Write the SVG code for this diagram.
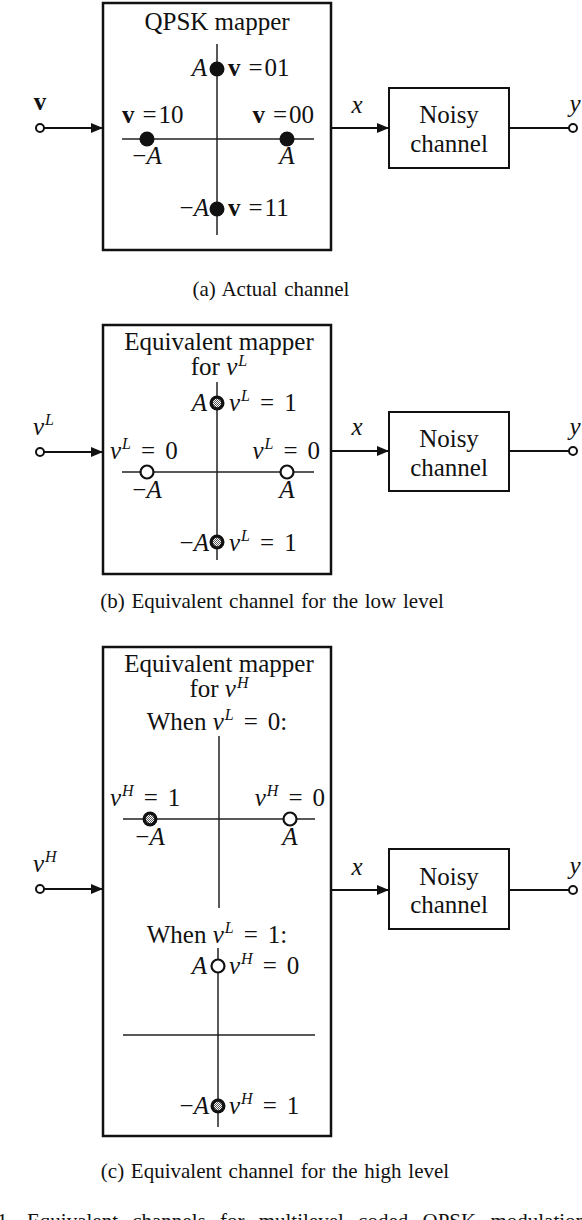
<svg xmlns="http://www.w3.org/2000/svg" width="582" height="1220" viewBox="0 0 582 1220">
<style>
text{font-family:"Liberation Serif","Times New Roman",serif;fill:#111;}
.t{font-size:25px;}
.cap{font-size:21px;word-spacing:1.5px;}
.m{font-size:25px;}
.i{font-style:italic;}
.b{font-weight:bold;}
.s{font-size:16px;font-style:italic;}
.box{fill:none;stroke:#111;stroke-width:2.5;}
.cbox{fill:none;stroke:#111;stroke-width:2;}
.axis{stroke:#222;stroke-width:1.5;fill:none;}
.wire{stroke:#111;stroke-width:2;fill:none;}
.term{fill:#fff;stroke:#111;stroke-width:2;}
.open{fill:#fff;stroke:#111;stroke-width:2.2;}
.dot{fill:#111;}
</style>
<defs>
<marker id="arr" markerWidth="12" markerHeight="10" refX="12" refY="5" orient="auto" markerUnits="userSpaceOnUse">
<path d="M0,0 L12,5 L0,10 Z" fill="#111"/>
</marker>
<pattern id="chk" width="2" height="2" patternUnits="userSpaceOnUse">
<rect width="2" height="2" fill="#555"/>
<rect width="1" height="1" fill="#fff"/>
<rect x="1" y="1" width="1" height="1" fill="#fff"/>
</pattern>
<g id="dp"><circle r="7.5" fill="#111"/><circle r="4.2" fill="url(#chk)"/></g>
</defs>

<!-- ===== (a) ===== -->
<g id="mapperA">
<rect class="box" x="103" y="3" width="228" height="247"/>
<text class="t" x="217" y="30" text-anchor="middle">QPSK mapper</text>
<line class="axis" x1="217" y1="44" x2="217" y2="235"/>
<line class="axis" x1="122" y1="139" x2="314" y2="139"/>
<circle class="dot" cx="147" cy="139" r="7.5"/>
<circle class="dot" cx="287" cy="139" r="7.5"/>
<circle class="dot" cx="217" cy="69" r="7.5"/>
<circle class="dot" cx="217" cy="209" r="7.5"/>
<text class="m i" x="207" y="76" text-anchor="end">A</text>
<text class="m" x="228" y="76"><tspan class="b">v</tspan><tspan dx="8">=</tspan><tspan dx="2">01</tspan></text>
<text class="m" x="122" y="123"><tspan class="b">v</tspan><tspan dx="8">=</tspan><tspan dx="2">10</tspan></text>
<text class="m" x="314" y="123" text-anchor="end"><tspan class="b">v</tspan><tspan dx="8">=</tspan><tspan dx="2">00</tspan></text>
<text class="m" x="147" y="164" text-anchor="middle">−<tspan class="i">A</tspan></text>
<text class="m i" x="287" y="164" text-anchor="middle">A</text>
<text class="m" x="209" y="216" text-anchor="end">−<tspan class="i">A</tspan></text>
<text class="m" x="228" y="216"><tspan class="b">v</tspan><tspan dx="8">=</tspan><tspan dx="2">11</tspan></text>
</g>
<g id="inA">
<circle class="term" cx="40" cy="128" r="4"/>
<text class="m b" x="40" y="110" text-anchor="middle">v</text>
</g>
<g id="chanA">
<rect class="cbox" x="389" y="88" width="120" height="80"/>
<text class="t" x="449" y="123" text-anchor="middle">Noisy</text>
<text class="t" x="449" y="152" text-anchor="middle">channel</text>
</g>
<g id="outA">
<circle class="term" cx="573" cy="128" r="4"/>
<text class="m i" x="575" y="112" text-anchor="middle">y</text>
</g>
<text class="m i" x="357" y="113" text-anchor="middle">x</text>
<text class="cap" x="271" y="296" text-anchor="middle">(a) Actual channel</text>

<!-- ===== (b) ===== -->
<g id="mapperB">
<rect class="box" x="103" y="325" width="228" height="249"/>
<text class="t" x="219" y="350" text-anchor="middle">Equivalent mapper</text>
<text class="t" x="219" y="375" text-anchor="middle">for <tspan class="i">v</tspan><tspan class="s" dx="1" dy="-9">L</tspan></text>
<line class="axis" x1="217" y1="382" x2="217" y2="560"/>
<line class="axis" x1="122" y1="472" x2="314" y2="472"/>
<use href="#dp" x="217" y="403"/>
<use href="#dp" x="217" y="542"/>
<circle class="open" cx="147" cy="472" r="6.5"/>
<circle class="open" cx="287" cy="472" r="6.5"/>
<text class="m i" x="207" y="411" text-anchor="end">A</text>
<text class="m" x="229" y="411"><tspan class="i">v</tspan><tspan class="s" dx="1" dy="-10">L</tspan><tspan dx="10" dy="10">=</tspan><tspan dx="10">1</tspan></text>
<text class="m" x="110" y="459"><tspan class="i">v</tspan><tspan class="s" dx="1" dy="-10">L</tspan><tspan dx="10" dy="10">=</tspan><tspan dx="10">0</tspan></text>
<text class="m" x="320" y="459" text-anchor="end"><tspan class="i">v</tspan><tspan class="s" dx="1" dy="-10">L</tspan><tspan dx="10" dy="10">=</tspan><tspan dx="10">0</tspan></text>
<text class="m" x="147" y="498" text-anchor="middle">−<tspan class="i">A</tspan></text>
<text class="m i" x="287" y="498" text-anchor="middle">A</text>
<text class="m" x="209" y="551" text-anchor="end">−<tspan class="i">A</tspan></text>
<text class="m" x="229" y="551"><tspan class="i">v</tspan><tspan class="s" dx="1" dy="-10">L</tspan><tspan dx="10" dy="10">=</tspan><tspan dx="10">1</tspan></text>
</g>
<g id="inB">
<circle class="term" cx="40" cy="452" r="4"/>
<text class="m" x="33" y="435"><tspan class="i">v</tspan><tspan class="s" dx="1" dy="-10">L</tspan></text>
</g>
<g id="chanB">
<rect class="cbox" x="389" y="412" width="120" height="79"/>
<text class="t" x="449" y="447" text-anchor="middle">Noisy</text>
<text class="t" x="449" y="476" text-anchor="middle">channel</text>
</g>
<g id="outB">
<circle class="term" cx="573" cy="451" r="4"/>
<text class="m i" x="575" y="435" text-anchor="middle">y</text>
</g>
<text class="m i" x="357" y="435" text-anchor="middle">x</text>
<text class="cap" x="272" y="608" text-anchor="middle">(b) Equivalent channel for the low level</text>

<!-- ===== (c) ===== -->
<g id="mapperC">
<rect class="box" x="103" y="647" width="228" height="489"/>
<text class="t" x="219" y="672" text-anchor="middle">Equivalent mapper</text>
<text class="t" x="219" y="697" text-anchor="middle">for <tspan class="i">v</tspan><tspan class="s" dx="1" dy="-9">H</tspan></text>
<text class="t" x="217" y="730" text-anchor="middle">When <tspan class="i">v</tspan><tspan class="s" dx="1" dy="-10">L</tspan><tspan dx="10" dy="10">=</tspan><tspan dx="10">0:</tspan></text>
<line class="axis" x1="219" y1="736" x2="219" y2="908"/>
<line class="axis" x1="123" y1="819" x2="315" y2="819"/>
<use href="#dp" x="150" y="819"/>
<circle class="open" cx="290" cy="819" r="6.5"/>
<text class="m" x="110" y="806"><tspan class="i">v</tspan><tspan class="s" dx="1" dy="-10">H</tspan><tspan dx="10" dy="10">=</tspan><tspan dx="10">1</tspan></text>
<text class="m" x="325" y="806" text-anchor="end"><tspan class="i">v</tspan><tspan class="s" dx="1" dy="-10">H</tspan><tspan dx="10" dy="10">=</tspan><tspan dx="10">0</tspan></text>
<text class="m" x="150" y="845" text-anchor="middle">−<tspan class="i">A</tspan></text>
<text class="m i" x="290" y="845" text-anchor="middle">A</text>
<text class="t" x="217" y="943" text-anchor="middle">When <tspan class="i">v</tspan><tspan class="s" dx="1" dy="-10">L</tspan><tspan dx="10" dy="10">=</tspan><tspan dx="10">1:</tspan></text>
<line class="axis" x1="218" y1="948" x2="218" y2="1127"/>
<line class="axis" x1="123" y1="1035" x2="315" y2="1035"/>
<circle class="open" cx="218" cy="966" r="6.5"/>
<use href="#dp" x="218" y="1106"/>
<text class="m i" x="207" y="974" text-anchor="end">A</text>
<text class="m" x="229" y="974"><tspan class="i">v</tspan><tspan class="s" dx="1" dy="-10">H</tspan><tspan dx="10" dy="10">=</tspan><tspan dx="10">0</tspan></text>
<text class="m" x="209" y="1114" text-anchor="end">−<tspan class="i">A</tspan></text>
<text class="m" x="229" y="1114"><tspan class="i">v</tspan><tspan class="s" dx="1" dy="-10">H</tspan><tspan dx="10" dy="10">=</tspan><tspan dx="10">1</tspan></text>
</g>
<g id="inC">
<circle class="term" cx="40" cy="889" r="4"/>
<text class="m" x="33" y="872"><tspan class="i">v</tspan><tspan class="s" dx="1" dy="-10">H</tspan></text>
</g>
<g id="chanC">
<rect class="cbox" x="389" y="849" width="120" height="80"/>
<text class="t" x="449" y="885" text-anchor="middle">Noisy</text>
<text class="t" x="449" y="913" text-anchor="middle">channel</text>
</g>
<g id="outC">
<circle class="term" cx="573" cy="890" r="4"/>
<text class="m i" x="575" y="874" text-anchor="middle">y</text>
</g>
<text class="m i" x="357" y="875" text-anchor="middle">x</text>
<text class="cap" x="275" y="1178" text-anchor="middle">(c) Equivalent channel for the high level</text>
<text class="cap" x="-3" y="1228" style="word-spacing:9px">1.  Equivalent channels for multilevel coded QPSK modulation</text>

<g id="connectors">
<line class="wire" x1="44" y1="128" x2="103" y2="128" marker-end="url(#arr)"/>
<line class="wire" x1="331" y1="128" x2="389" y2="128" marker-end="url(#arr)"/>
<line class="wire" x1="509" y1="128" x2="569" y2="128"/>
<line class="wire" x1="44" y1="452" x2="103" y2="452" marker-end="url(#arr)"/>
<line class="wire" x1="331" y1="451" x2="389" y2="451" marker-end="url(#arr)"/>
<line class="wire" x1="509" y1="451" x2="569" y2="451"/>
<line class="wire" x1="44" y1="889" x2="103" y2="889" marker-end="url(#arr)"/>
<line class="wire" x1="331" y1="890" x2="389" y2="890" marker-end="url(#arr)"/>
<line class="wire" x1="509" y1="890" x2="569" y2="890"/>
</g>
</svg>
